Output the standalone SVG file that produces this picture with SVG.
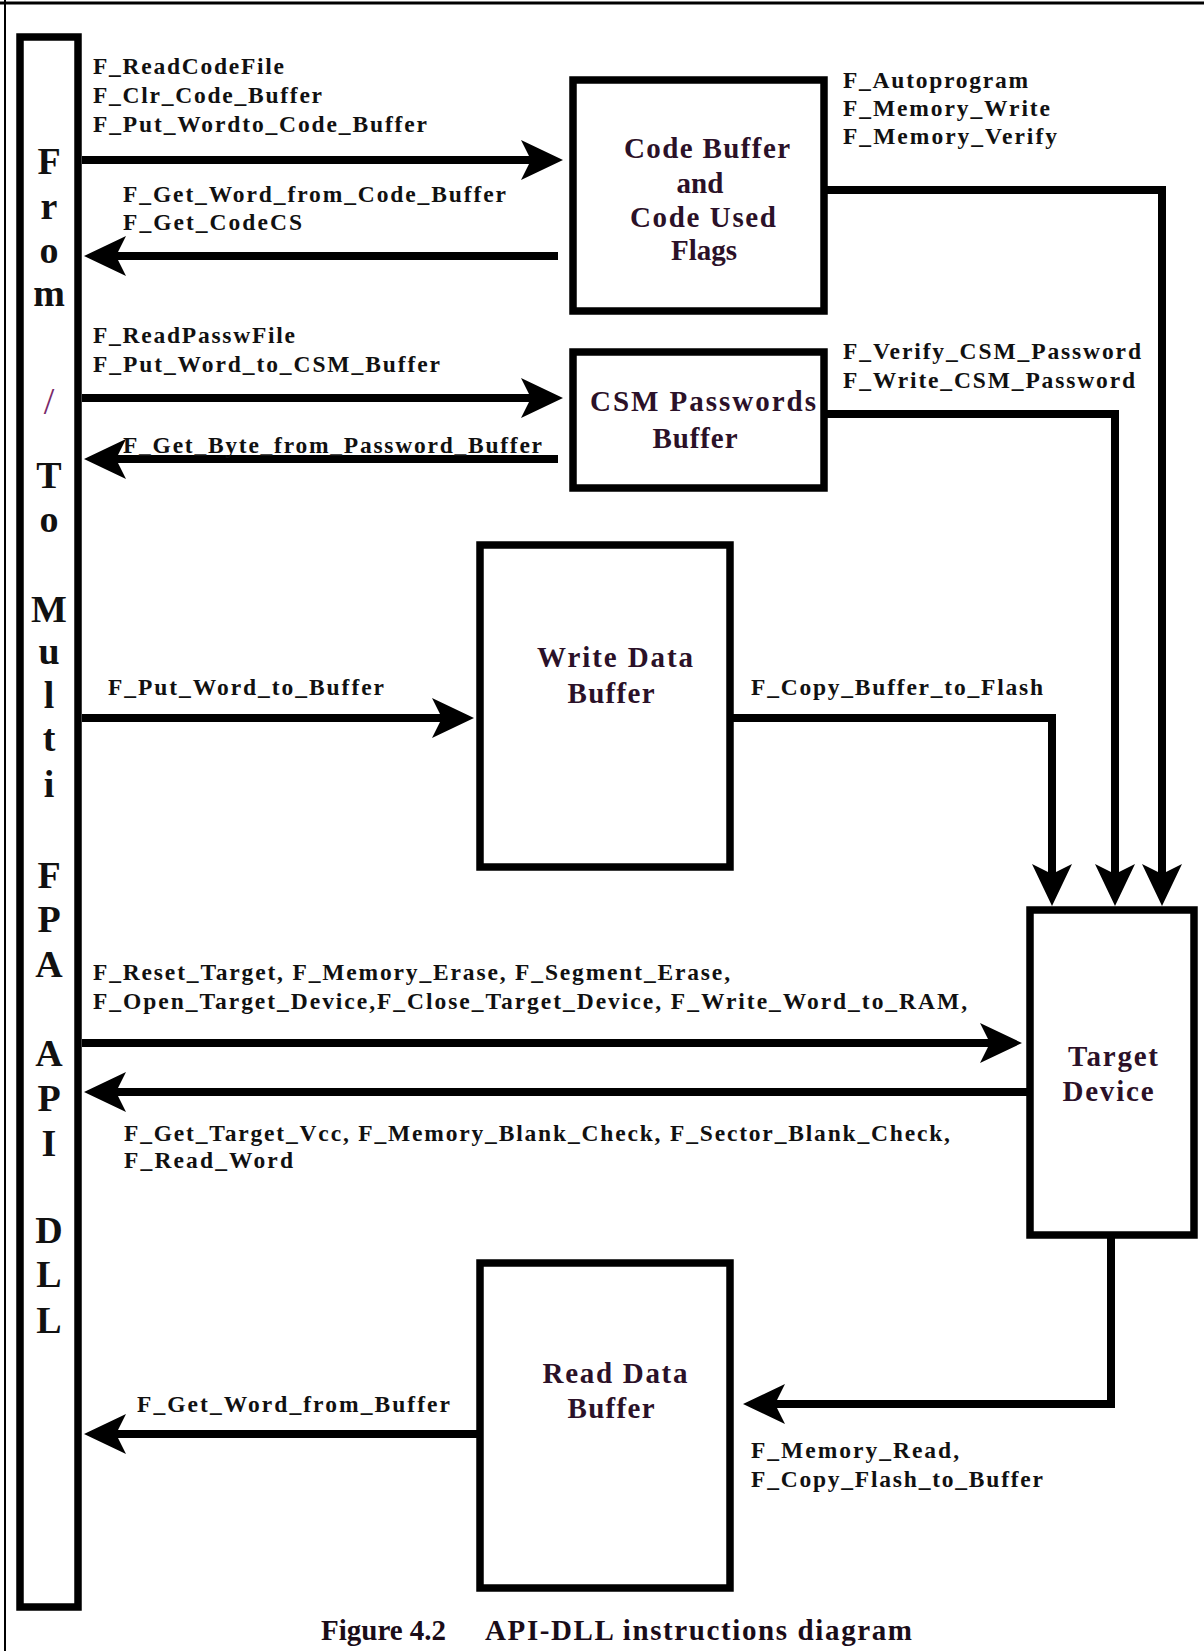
<svg xmlns="http://www.w3.org/2000/svg" width="1204" height="1651" viewBox="0 0 1204 1651">
<defs>
<style>
.box{fill:none;stroke:#000;stroke-width:7.5}
.wire{fill:none;stroke:#000;stroke-width:8;stroke-linejoin:miter}
.lbl{font-family:"Liberation Serif",serif;font-weight:bold;font-size:23.5px;fill:#111}
.node{font-family:"Liberation Serif",serif;font-weight:bold;font-size:29px;fill:#2b1128;text-anchor:middle}
.bar{font-family:"Liberation Serif",serif;font-weight:bold;font-size:38px;fill:#111;text-anchor:middle}
.title{font-family:"Liberation Serif",serif;font-weight:bold;font-size:29px;fill:#1a0c18}
</style>
<marker id="ah" markerUnits="userSpaceOnUse" markerWidth="50" markerHeight="50" viewBox="0 -25 50 50" refX="10" refY="0" orient="auto">
<path d="M0,-20 L42,0 L0,20 L10,0 Z" fill="#000"/>
</marker>
</defs>
<rect width="1204" height="1651" fill="#fff"/>
<g id="frame">
<line x1="0" y1="3" x2="1204" y2="3" stroke="#000" stroke-width="3"/>
<line x1="5" y1="0" x2="5" y2="1651" stroke="#000" stroke-width="2"/>
</g>

<g id="connectors">
<path class="wire" d="M82,160 H531" marker-end="url(#ah)"/>
<path class="wire" d="M558,256 H116" marker-end="url(#ah)"/>
<path class="wire" d="M82,398 H531" marker-end="url(#ah)"/>
<path class="wire" d="M558,459 H116" marker-end="url(#ah)"/>
<path class="wire" d="M82,718 H442" marker-end="url(#ah)"/>
<path class="wire" d="M733,718 H1052 V874" marker-end="url(#ah)"/>
<path class="wire" d="M827,414 H1115 V874" marker-end="url(#ah)"/>
<path class="wire" d="M827,190 H1162 V874" marker-end="url(#ah)"/>
<path class="wire" d="M82,1043 H990" marker-end="url(#ah)"/>
<path class="wire" d="M1029,1092 H116" marker-end="url(#ah)"/>
<path class="wire" d="M1111,1236 V1404 H775" marker-end="url(#ah)"/>
<path class="wire" d="M477,1434 H116" marker-end="url(#ah)"/>
</g>

<g id="labels">
<text class="lbl" x="93" y="74" textLength="191" lengthAdjust="spacing">F_ReadCodeFile</text>
<text class="lbl" x="93" y="103" textLength="229" lengthAdjust="spacing">F_Clr_Code_Buffer</text>
<text class="lbl" x="93" y="132" textLength="334" lengthAdjust="spacing">F_Put_Wordto_Code_Buffer</text>
<text class="lbl" x="123" y="202" textLength="383" lengthAdjust="spacing">F_Get_Word_from_Code_Buffer</text>
<text class="lbl" x="123" y="230" textLength="179" lengthAdjust="spacing">F_Get_CodeCS</text>
<text class="lbl" x="93" y="343" textLength="202" lengthAdjust="spacing">F_ReadPasswFile</text>
<text class="lbl" x="93" y="372" textLength="347" lengthAdjust="spacing">F_Put_Word_to_CSM_Buffer</text>
<text class="lbl" x="123" y="453" textLength="419" lengthAdjust="spacing">F_Get_Byte_from_Password_Buffer</text>
<text class="lbl" x="843" y="88" textLength="185" lengthAdjust="spacing">F_Autoprogram</text>
<text class="lbl" x="843" y="116" textLength="207" lengthAdjust="spacing">F_Memory_Write</text>
<text class="lbl" x="843" y="144" textLength="214" lengthAdjust="spacing">F_Memory_Verify</text>
<text class="lbl" x="843" y="359" textLength="298" lengthAdjust="spacing">F_Verify_CSM_Password</text>
<text class="lbl" x="843" y="388" textLength="292" lengthAdjust="spacing">F_Write_CSM_Password</text>
<text class="lbl" x="108" y="695" textLength="276" lengthAdjust="spacing">F_Put_Word_to_Buffer</text>
<text class="lbl" x="751" y="695" textLength="292" lengthAdjust="spacing">F_Copy_Buffer_to_Flash</text>
<text class="lbl" x="93" y="980" textLength="637" lengthAdjust="spacing">F_Reset_Target, F_Memory_Erase, F_Segment_Erase,</text>
<text class="lbl" x="93" y="1009" textLength="874" lengthAdjust="spacing">F_Open_Target_Device,F_Close_Target_Device, F_Write_Word_to_RAM,</text>
<text class="lbl" x="124" y="1141" textLength="826" lengthAdjust="spacing">F_Get_Target_Vcc, F_Memory_Blank_Check, F_Sector_Blank_Check,</text>
<text class="lbl" x="124" y="1168" textLength="169" lengthAdjust="spacing">F_Read_Word</text>
<text class="lbl" x="751" y="1458" textLength="208" lengthAdjust="spacing">F_Memory_Read,</text>
<text class="lbl" x="751" y="1487" textLength="292" lengthAdjust="spacing">F_Copy_Flash_to_Buffer</text>
<text class="lbl" x="137" y="1412" textLength="313" lengthAdjust="spacing">F_Get_Word_from_Buffer</text>
</g>

<g id="api-dll">
<rect class="box" x="20" y="37" width="58" height="1570"/>
<text class="bar" x="49" y="174">F</text>
<text class="bar" x="49" y="219">r</text>
<text class="bar" x="49" y="263">o</text>
<text class="bar" x="49" y="306">m</text>
<text class="bar" x="49" y="414" style="fill:#7a2a6a;font-weight:normal">/</text>
<text class="bar" x="49" y="488">T</text>
<text class="bar" x="49" y="532">o</text>
<text class="bar" x="49" y="622">M</text>
<text class="bar" x="49" y="664">u</text>
<text class="bar" x="49" y="708">l</text>
<text class="bar" x="49" y="751">t</text>
<text class="bar" x="49" y="797">i</text>
<text class="bar" x="49" y="888">F</text>
<text class="bar" x="49" y="932">P</text>
<text class="bar" x="49" y="977">A</text>
<text class="bar" x="49" y="1066">A</text>
<text class="bar" x="49" y="1111">P</text>
<text class="bar" x="49" y="1156">I</text>
<text class="bar" x="49" y="1243">D</text>
<text class="bar" x="49" y="1287">L</text>
<text class="bar" x="49" y="1333">L</text>
</g>

<g id="code-buffer">
<rect class="box" x="573" y="80" width="251" height="231"/>
<text class="node" x="707" y="158" textLength="166" lengthAdjust="spacing">Code Buffer</text>
<text class="node" x="700" y="193">and</text>
<text class="node" x="703" y="227" textLength="146" lengthAdjust="spacing">Code Used</text>
<text class="node" x="704" y="260">Flags</text>
</g>

<g id="csm-buffer">
<rect class="box" x="573" y="352" width="251" height="136"/>
<text class="node" x="703" y="411" textLength="226" lengthAdjust="spacing">CSM Passwords</text>
<text class="node" x="695" y="448" textLength="85" lengthAdjust="spacing">Buffer</text>
</g>

<g id="write-buffer">
<rect class="box" x="480" y="545" width="250" height="322"/>
<text class="node" x="615" y="667" textLength="156" lengthAdjust="spacing">Write Data</text>
<text class="node" x="611" y="703" textLength="87" lengthAdjust="spacing">Buffer</text>
</g>

<g id="target-device">
<rect class="box" x="1030" y="910" width="164" height="325"/>
<text class="node" x="1113" y="1066" textLength="90" lengthAdjust="spacing">Target</text>
<text class="node" x="1108" y="1101" textLength="91" lengthAdjust="spacing">Device</text>
</g>

<g id="read-buffer">
<rect class="box" x="480" y="1263" width="250" height="325"/>
<text class="node" x="615" y="1383" textLength="145" lengthAdjust="spacing">Read Data</text>
<text class="node" x="611" y="1418" textLength="87" lengthAdjust="spacing">Buffer</text>
</g>

<g id="caption">
<text class="title" x="321" y="1640">Figure 4.2</text>
<text class="title" x="485" y="1640" textLength="427" lengthAdjust="spacing">API-DLL instructions diagram</text>
</g>
</svg>
